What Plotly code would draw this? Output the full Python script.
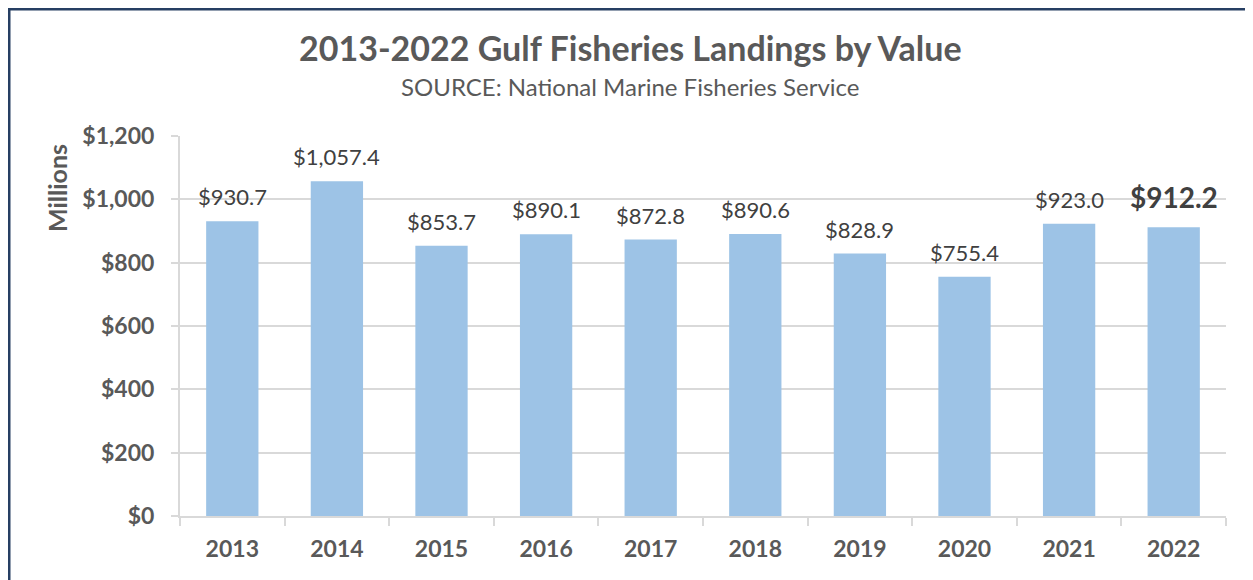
import plotly.graph_objects as go

years = ["2013", "2014", "2015", "2016", "2017", "2018", "2019", "2020", "2021", "2022"]
values = [930.7, 1057.4, 853.7, 890.1, 872.8, 890.6, 828.9, 755.4, 923.0, 912.2]
y_ticks = [0, 200, 400, 600, 800, 1000, 1200]
y_tick_text = [f"${v:,}" for v in y_ticks]

FONT = "Lato"
GREY = "#595959"

# the page body adds an 8px offset; lay out in page pixels
OFF = 8
W, H = 1253 - OFF, 580 - OFF
plot_l, plot_r, plot_t, plot_b = 180, 1226, 136, 516  # page pixels
ml = plot_l - OFF
mr = W - (plot_r - OFF)
mt = plot_t - OFF
mb = H - (plot_b - OFF)
pw, ph = W - ml - mr, H - mt - mb

def px_x(p):
    return (p - OFF - ml) / pw

def px_y(p):
    return (H - mb - (p - OFF)) / ph

fig = go.Figure()
fig.add_trace(go.Bar(x=years, y=values, marker=dict(color="#9DC3E6", line=dict(width=0)),
                     hoverinfo="x+y"))

annotations = []
for i, (yr, v) in enumerate(zip(years, values)):
    last = i == len(years) - 1
    annotations.append(dict(
        x=i, y=v, xref="x", yref="y", yanchor="bottom", showarrow=False,
        text=(f"<b>${v:,.1f}</b>" if last else f"${v:,.1f}"),
        font=dict(family=FONT, size=28 if last else 22, color="#404040"),
        yshift=11 if last else 9,
    ))

annotations += [
    dict(text="<b>2013-2022 Gulf Fisheries Landings by Value</b>", x=px_x(630), y=px_y(48),
         xref="paper", yref="paper", showarrow=False, xanchor="center", yanchor="middle",
         font=dict(family=FONT, size=34, color=GREY)),
    dict(text="SOURCE: National Marine Fisheries Service", x=px_x(630), y=px_y(87),
         xref="paper", yref="paper", showarrow=False, xanchor="center", yanchor="middle",
         font=dict(family=FONT, size=24, color=GREY)),
    dict(text="<b>Millions</b>", x=px_x(57), y=px_y(188), textangle=-90,
         xref="paper", yref="paper", showarrow=False, xanchor="center", yanchor="middle",
         font=dict(family=FONT, size=25, color=GREY)),
]

shapes = [
    dict(type="line", xref="paper", yref="paper", x0=px_x(9), x1=px_x(9), y0=px_y(8), y1=px_y(600),
         line=dict(color="#263F63", width=3)),
    dict(type="line", xref="paper", yref="paper", x0=px_x(8), x1=px_x(1270), y0=px_y(9), y1=px_y(9),
         line=dict(color="#263F63", width=3)),
]

fig.update_layout(
    width=W, height=H,
    margin=dict(l=ml, r=mr, t=mt, b=mb),
    paper_bgcolor="white", plot_bgcolor="white",
    showlegend=False,
    bargap=0.5,
    annotations=annotations,
    shapes=shapes,
    xaxis=dict(
        type="category", range=[-0.5, 9.5], showgrid=False, showline=True, linecolor="#d9d9d9", linewidth=2,
        ticks="outside", tickson="boundaries", ticklen=8, tickcolor="#d9d9d9", tickwidth=2,
        tickfont=dict(family=FONT, size=23, color=GREY, weight="bold"),
        ticklabelstandoff=11,
        fixedrange=True,
    ),
    yaxis=dict(
        range=[0, 1200], tickvals=y_ticks, ticktext=y_tick_text,
        showgrid=True, gridcolor="#d9d9d9", gridwidth=2,
        showline=True, linecolor="#d9d9d9", linewidth=2,
        ticks="outside", ticklen=7, tickcolor="#d9d9d9", tickwidth=2,
        tickfont=dict(family=FONT, size=23, color=GREY, weight="bold"),
        ticklabelstandoff=12,
        zeroline=False, fixedrange=True,
    ),
)

fig.write_html("out.html")
